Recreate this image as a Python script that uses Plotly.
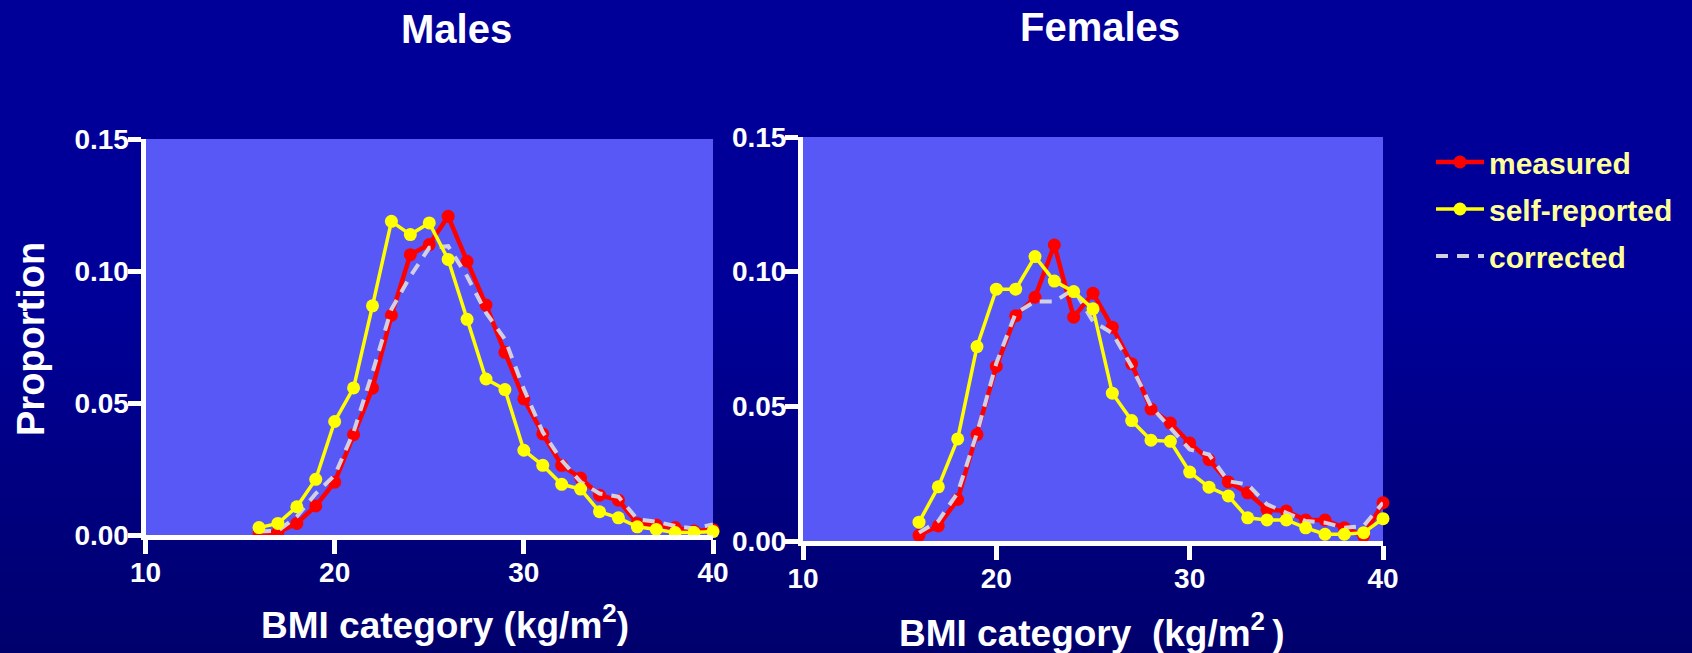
import plotly.graph_objects as go

# ---------------- data ----------------
bmi = list(range(16, 41))

male_measured = [0.0005, 0.001, 0.0044, 0.011, 0.020, 0.038, 0.0556, 0.0832, 0.1062, 0.110,
                 0.1207, 0.1037, 0.0871, 0.0692, 0.0516, 0.0383, 0.0264, 0.0216, 0.0151, 0.0132,
                 0.0044, 0.0038, 0.0028, 0.0015, 0.002]
male_self = [0.0028, 0.0044, 0.0107, 0.0211, 0.043, 0.0557, 0.0868, 0.1188, 0.1138, 0.1182,
             0.1044, 0.0817, 0.0591, 0.0551, 0.0321, 0.0264, 0.0192, 0.0174, 0.0088, 0.0065,
             0.0031, 0.0021, 0.0009, 0.0009, 0.0013]
male_corrected = [0.0013, 0.0016, 0.007, 0.0157, 0.0226, 0.039, 0.0616, 0.0855, 0.098, 0.1088,
                  0.1094, 0.098, 0.0842, 0.0742, 0.0553, 0.039, 0.0283, 0.0201, 0.0157, 0.0145,
                  0.006, 0.005, 0.0034, 0.0025, 0.004]

female_measured = [0.0021, 0.0056, 0.0154, 0.0395, 0.0648, 0.0836, 0.0905, 0.1099, 0.0831, 0.092,
                   0.0794, 0.0658, 0.049, 0.0438, 0.0364, 0.0302, 0.0219, 0.0179, 0.0117, 0.0111,
                   0.0078, 0.0078, 0.0049, 0.0019, 0.0142]
female_self = [0.007, 0.0201, 0.0379, 0.0722, 0.0935, 0.0935, 0.1056, 0.0965, 0.0926, 0.0862,
               0.0549, 0.0447, 0.0374, 0.037, 0.0256, 0.020, 0.0167, 0.0086, 0.0078, 0.0078,
               0.0049, 0.0025, 0.0025, 0.0031, 0.0083]
female_corrected = [0.0031, 0.0074, 0.0179, 0.0401, 0.066, 0.0846, 0.0889, 0.0889, 0.0935, 0.0815,
                    0.0772, 0.0648, 0.050, 0.042, 0.034, 0.0321, 0.0222, 0.021, 0.0136, 0.0105,
                    0.0074, 0.0068, 0.0049, 0.0056, 0.0142]

x_ticks = [10, 20, 30, 40]
y_ticks = [0.0, 0.05, 0.10, 0.15]
y_tick_labels = ["0.00", "0.05", "0.10", "0.15"]

series_names = ["measured", "self-reported", "corrected"]
panel_titles = ["Males", "Females"]
x_title_m = "BMI category (kg/m<sup>2</sup>)"
x_title_f = "BMI category\u00a0\u00a0(kg/m<sup>2\u00a0</sup>)"
y_title = "Proportion"

# ---------------- layout helpers ----------------
W, H = 1692, 653
FONT = "Liberation Sans, Arial, sans-serif"


def fx(p):
    return p / W


def fy(p):
    return (H - p) / H


RED, YEL, GREY = "#FF0000", "#FFFF00", "#D0D0E2"
PLOT_BG = "#5858F7"

fig = go.Figure()

panels = [
    ("x", "y", male_measured, male_self, male_corrected, True),
    ("x2", "y2", female_measured, female_self, female_corrected, False),
]
for xa, ya, meas, selfr, corr, show in panels:
    fig.add_trace(go.Scatter(
        x=bmi, y=meas, mode="lines+markers", name=series_names[0], legendrank=1,
        legendgroup="m", line=dict(color=RED, width=4.5), marker=dict(color=RED, size=13),
        xaxis=xa, yaxis=ya, showlegend=show, cliponaxis=False))
    fig.add_trace(go.Scatter(
        x=bmi, y=corr, mode="lines", name=series_names[2], legendrank=3,
        legendgroup="c", line=dict(color=GREY, width=4, dash="12px,9px"),
        xaxis=xa, yaxis=ya, showlegend=show, cliponaxis=False))
    fig.add_trace(go.Scatter(
        x=bmi, y=selfr, mode="lines+markers", name=series_names[1], legendrank=2,
        legendgroup="s", line=dict(color=YEL, width=3.5), marker=dict(color=YEL, size=13),
        xaxis=xa, yaxis=ya, showlegend=show, cliponaxis=False))

tickfont = dict(family=FONT, size=28, color="white", weight="bold")
common_x = dict(range=[10, 40], tickvals=x_ticks, ticks="outside", ticklen=14, tickwidth=5,
                tickcolor="white", showline=True, linewidth=5, linecolor="white",
                showgrid=False, zeroline=False, tickfont=tickfont, ticklabelstandoff=-6,
                fixedrange=True)
common_y = dict(range=[0, 0.15], tickvals=y_ticks, ticktext=y_tick_labels, ticks="outside",
                ticklen=13, tickwidth=5, tickcolor="white", showline=True, linewidth=5,
                linecolor="white", showgrid=False, zeroline=False, tickfont=tickfont,
                ticklabelstandoff=-7, fixedrange=True)

# background gradient stripes (paper coordinates = full figure, margins are 0)
shapes = []
N = 80
for i in range(N):
    y0 = i * H / N
    mid = y0 + H / N / 2
    if mid < 300:
        b = 153
    else:
        b = 153 - 45 * (mid - 300) / (H - 300)
    shapes.append(dict(type="rect", xref="paper", yref="paper", x0=0, x1=1,
                       y0=fy(y0 + H / N + 0.5), y1=fy(y0), line=dict(width=0),
                       fillcolor="rgb(0,0,%d)" % round(b), layer="below"))
# plot-area backgrounds, drawn over the gradient
for xd, yd in (("x domain", "y domain"), ("x2 domain", "y2 domain")):
    shapes.append(dict(type="rect", xref=xd, yref=yd, x0=0, x1=1, y0=0, y1=1,
                       line=dict(width=0), fillcolor=PLOT_BG, layer="below"))

annotations = [
    dict(text=panel_titles[0], x=fx(456), y=fy(29), xref="paper", yref="paper",
         showarrow=False, xanchor="center", yanchor="middle",
         font=dict(family=FONT, size=40, color="white", weight="bold")),
    dict(text=panel_titles[1], x=fx(1100), y=fy(27), xref="paper", yref="paper",
         showarrow=False, xanchor="center", yanchor="middle",
         font=dict(family=FONT, size=40, color="white", weight="bold")),
    dict(text=x_title_m, x=fx(445), y=fy(622), xref="paper", yref="paper",
         showarrow=False, xanchor="center", yanchor="middle",
         font=dict(family=FONT, size=37, color="white", weight="bold")),
    dict(text=x_title_f, x=fx(1092), y=fy(630), xref="paper", yref="paper",
         showarrow=False, xanchor="center", yanchor="middle",
         font=dict(family=FONT, size=37, color="white", weight="bold")),
    dict(text=y_title, x=fx(31), y=fy(339), xref="paper", yref="paper", textangle=-90,
         showarrow=False, xanchor="center", yanchor="middle",
         font=dict(family=FONT, size=38, color="white", weight="bold")),
]

fig.update_layout(
    width=W, height=H,
    margin=dict(l=0, r=0, t=0, b=0, autoexpand=False),
    paper_bgcolor="#000090",
    plot_bgcolor=PLOT_BG,
    xaxis=dict(domain=[fx(145.5), fx(713)], anchor="y", **common_x),
    yaxis=dict(domain=[fy(535), fy(139)], anchor="x", **common_y),
    xaxis2=dict(domain=[fx(803), fx(1383)], anchor="y2", **common_x),
    yaxis2=dict(domain=[fy(541), fy(137)], anchor="x2", **common_y),
    shapes=shapes,
    annotations=annotations,
    showlegend=True,
    legend=dict(x=fx(1431), y=fy(136), xanchor="left", yanchor="top",
                bgcolor="rgba(0,0,0,0)", borderwidth=0, tracegroupgap=5, itemwidth=48,
                font=dict(family=FONT, size=30, color="#FFFF99", weight="bold")),
)

fig.write_html("out.html")
